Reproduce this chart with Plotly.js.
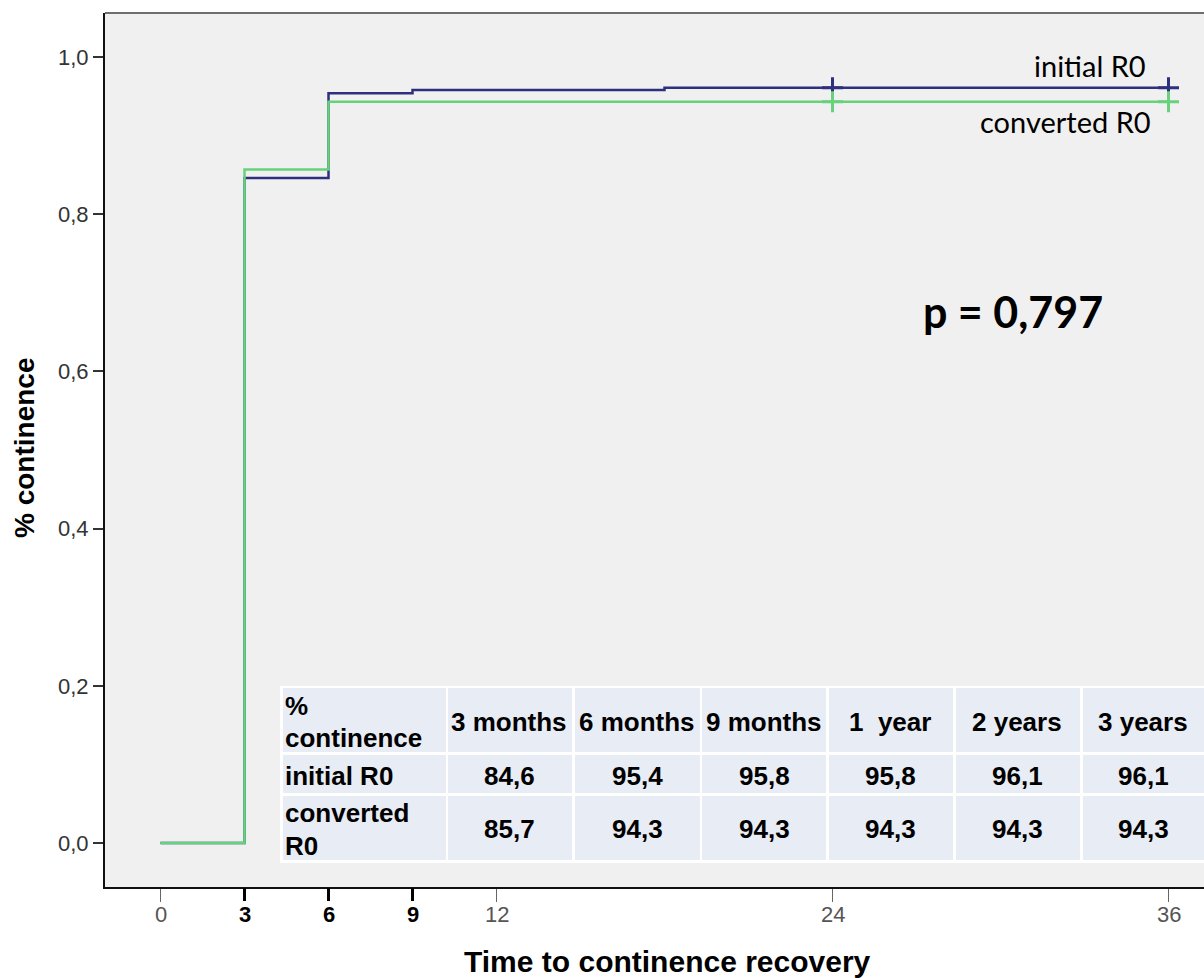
<!DOCTYPE html>
<html>
<head>
<meta charset="utf-8">
<script src="https://cdn.plot.ly/plotly-3.0.1.min.js"></script>
<style>
  html, body { margin: 0; padding: 0; background: #ffffff; overflow: hidden; }
  #chart { width: 1204px; height: 978px; }
</style>
</head>
<body>
<div id="chart"></div>
<script>
// ---- Data ----
const initialTime = [0, 3, 6, 9, 18, 36];
const initialPct  = [0, 0.846, 0.954, 0.958, 0.961, 0.961];
const convertedTime = [0, 3, 6, 36];
const convertedPct  = [0, 0.857, 0.943, 0.943];
const initialCensorTime = [24, 36];
const initialCensorPct  = [0.961, 0.961];
const convertedCensorTime = [24, 36];
const convertedCensorPct  = [0.943, 0.943];

const xMajorTicks = [0, 12, 24, 36];
const xMinorTicks = [3, 6, 9];
const yTicks = [0, 0.2, 0.4, 0.6, 0.8, 1.0];

const tableCorner = ['%', 'continence'];
const tableHeaders = ['3 months', '6 months', '9 months', '1\u00a0\u00a0year', '2 years', '3 years'];
const rowLabelInitial = 'initial R0';
const rowLabelConverted = ['converted', 'R0'];
const initialRow   = ['84,6', '95,4', '95,8', '95,8', '96,1', '96,1'];
const convertedRow = ['85,7', '94,3', '94,3', '94,3', '94,3', '94,3'];

const seriesNames = ['initial R0', 'converted R0'];
const pText = 'p = 0,797';

// ---- Layout helpers (pixel -> paper) ----
const W = 1204, H = 978;
const M = {l: 105, r: 0, t: 13, b: 91};
const PW = W - M.l - M.r, PH = H - M.t - M.b;
const px = x => (x - M.l) / PW;
const py = y => (H - M.b - y) / PH;

const BLUE = '#2f2f7f';
const GREEN = '#66d27c';
const ARIAL = 'Liberation Sans, Arial, sans-serif';
const CAL = 'Lato, Carlito, Calibri, sans-serif';

const traces = [
  {x: initialTime, y: initialPct, type: 'scatter', mode: 'lines', line: {shape: 'hv', color: BLUE, width: 2.5}, name: seriesNames[0], hoverinfo: 'skip'},
  {x: convertedTime, y: convertedPct, type: 'scatter', mode: 'lines', line: {shape: 'hv', color: GREEN, width: 2.5}, name: seriesNames[1], hoverinfo: 'skip'},
  {x: initialCensorTime, y: initialCensorPct, type: 'scatter', mode: 'markers', cliponaxis: false,
   marker: {symbol: 'cross-thin', size: 15, color: BLUE, line: {color: BLUE, width: 3}}, hoverinfo: 'skip'},
  {x: convertedCensorTime, y: convertedCensorPct, type: 'scatter', mode: 'markers', cliponaxis: false,
   marker: {symbol: 'cross-thin', size: 15, color: GREEN, line: {color: GREEN, width: 3}}, hoverinfo: 'skip'},
  // dummy trace for secondary x axis (ticks 3, 6, 9)
  {x: [0], y: [null], xaxis: 'x2', yaxis: 'y', mode: 'markers', showlegend: false, hoverinfo: 'skip'}
];

const xRange = [(M.l - 160.5) / 28, (W - M.r - 160.5) / 28];
const yRange = [-(887 - 843) / 786, 1 + (57 - 13) / 786];

const shapes = [];
const annotations = [];

// top frame line
shapes.push({type: 'line', xref: 'paper', yref: 'paper', x0: 0, x1: 1, y0: 1, y1: 1, line: {color: '#6e6e6e', width: 2}});

// table background (white) and cells
shapes.push({type: 'rect', xref: 'paper', yref: 'paper', x0: px(280), x1: px(1215), y0: py(863), y1: py(686), fillcolor: '#ffffff', line: {width: 0}, layer: 'above'});
const colX0 = [283, 448, 575, 702, 829, 956, 1083];
const colX1 = [446, 572, 700, 826, 953, 1080, 1215];
const rowY0 = [688, 755, 796];
const rowY1 = [752, 793, 860];
for (let r = 0; r < 3; r++) {
  for (let c = 0; c < 7; c++) {
    shapes.push({type: 'rect', xref: 'paper', yref: 'paper', x0: px(colX0[c]), x1: px(colX1[c]), y0: py(rowY1[r]), y1: py(rowY0[r]),
      fillcolor: '#e8ecf4', line: {width: 0}, layer: 'above'});
  }
}
const tFont = {family: ARIAL, size: 26, color: '#000000'};
function addText(text, x, y, xanchor, font) {
  annotations.push({text: text, xref: 'paper', yref: 'paper', x: px(x), y: py(y), xanchor: xanchor, yanchor: 'middle', showarrow: false, font: font});
}
addText('<b>' + tableCorner[0] + '</b>', 283, 706, 'left', tFont);
addText('<b>' + tableCorner[1] + '</b>', 283, 738, 'left', tFont);
addText('<b>' + rowLabelInitial + '</b>', 283, 776, 'left', tFont);
addText('<b>' + rowLabelConverted[0] + '</b>', 283, 813, 'left', tFont);
addText('<b>' + rowLabelConverted[1] + '</b>', 283, 846, 'left', tFont);
const colCenters = [509, 637, 764, 890, 1017, 1143];
for (let c = 0; c < 6; c++) {
  addText('<b>' + tableHeaders[c] + '</b>', colCenters[c], 722, 'center', tFont);
  addText('<b>' + initialRow[c] + '</b>', colCenters[c], 776, 'center', tFont);
  addText('<b>' + convertedRow[c] + '</b>', colCenters[c], 829, 'center', tFont);
}

// x tick labels placed at the axis tick values
xMajorTicks.forEach(v => annotations.push({text: String(v), xref: 'x', yref: 'paper', x: v, y: py(915), xanchor: 'center', yanchor: 'middle',
  showarrow: false, font: {family: ARIAL, size: 22, color: '#555555'}}));
xMinorTicks.forEach(v => annotations.push({text: '<b>' + v + '</b>', xref: 'x', yref: 'paper', x: v, y: py(915), xanchor: 'center', yanchor: 'middle',
  showarrow: false, font: {family: ARIAL, size: 22, color: '#000000'}}));

// series labels and p-value
addText(seriesNames[0], 1148, 65, 'right', {family: CAL, size: 29, color: '#000000'});
addText(seriesNames[1], 1153, 121, 'right', {family: CAL, size: 29, color: '#000000'});
addText('<b>' + pText + '</b>', 1013, 311, 'center', {family: CAL, size: 43, color: '#000000'});

// axis titles
annotations.push({text: '<b>% continence</b>', xref: 'paper', yref: 'paper', x: px(24), y: py(448), xanchor: 'center', yanchor: 'middle',
  textangle: -90, showarrow: false, font: {family: ARIAL, size: 28, color: '#000000'}});
annotations.push({text: '<b>Time to continence recovery</b>', xref: 'paper', yref: 'paper', x: px(667), y: py(961), xanchor: 'center', yanchor: 'middle',
  showarrow: false, font: {family: ARIAL, size: 30, color: '#000000'}});

const layout = {
  width: W, height: H,
  margin: M,
  paper_bgcolor: '#ffffff',
  plot_bgcolor: '#f0f0f0',
  showlegend: false,
  separators: ', ',
  xaxis: {
    range: xRange, tickvals: xMajorTicks, showticklabels: false,
    ticks: 'outside', ticklen: 13, tickwidth: 1.5, tickcolor: '#666666',
    showline: true, linecolor: '#111111', linewidth: 2,
    showgrid: false, zeroline: false, fixedrange: true
  },
  xaxis2: {
    range: xRange, overlaying: 'x', anchor: 'y', side: 'bottom',
    tickvals: xMinorTicks, showticklabels: false,
    ticks: 'outside', ticklen: 13, tickwidth: 3, tickcolor: '#000000',
    showline: false, showgrid: false, zeroline: false, fixedrange: true
  },
  yaxis: {
    range: yRange, tickvals: yTicks, tickformat: '.1f',
    ticks: 'outside', ticklen: 10, tickwidth: 2, tickcolor: '#333333',
    tickfont: {family: ARIAL, size: 22, color: '#333333'},
    showline: true, linecolor: '#111111', linewidth: 2,
    showgrid: false, zeroline: false, fixedrange: true
  },
  shapes: shapes,
  annotations: annotations
};

Plotly.newPlot('chart', traces, layout, {displayModeBar: false, staticPlot: true});
</script>
</body>
</html>
